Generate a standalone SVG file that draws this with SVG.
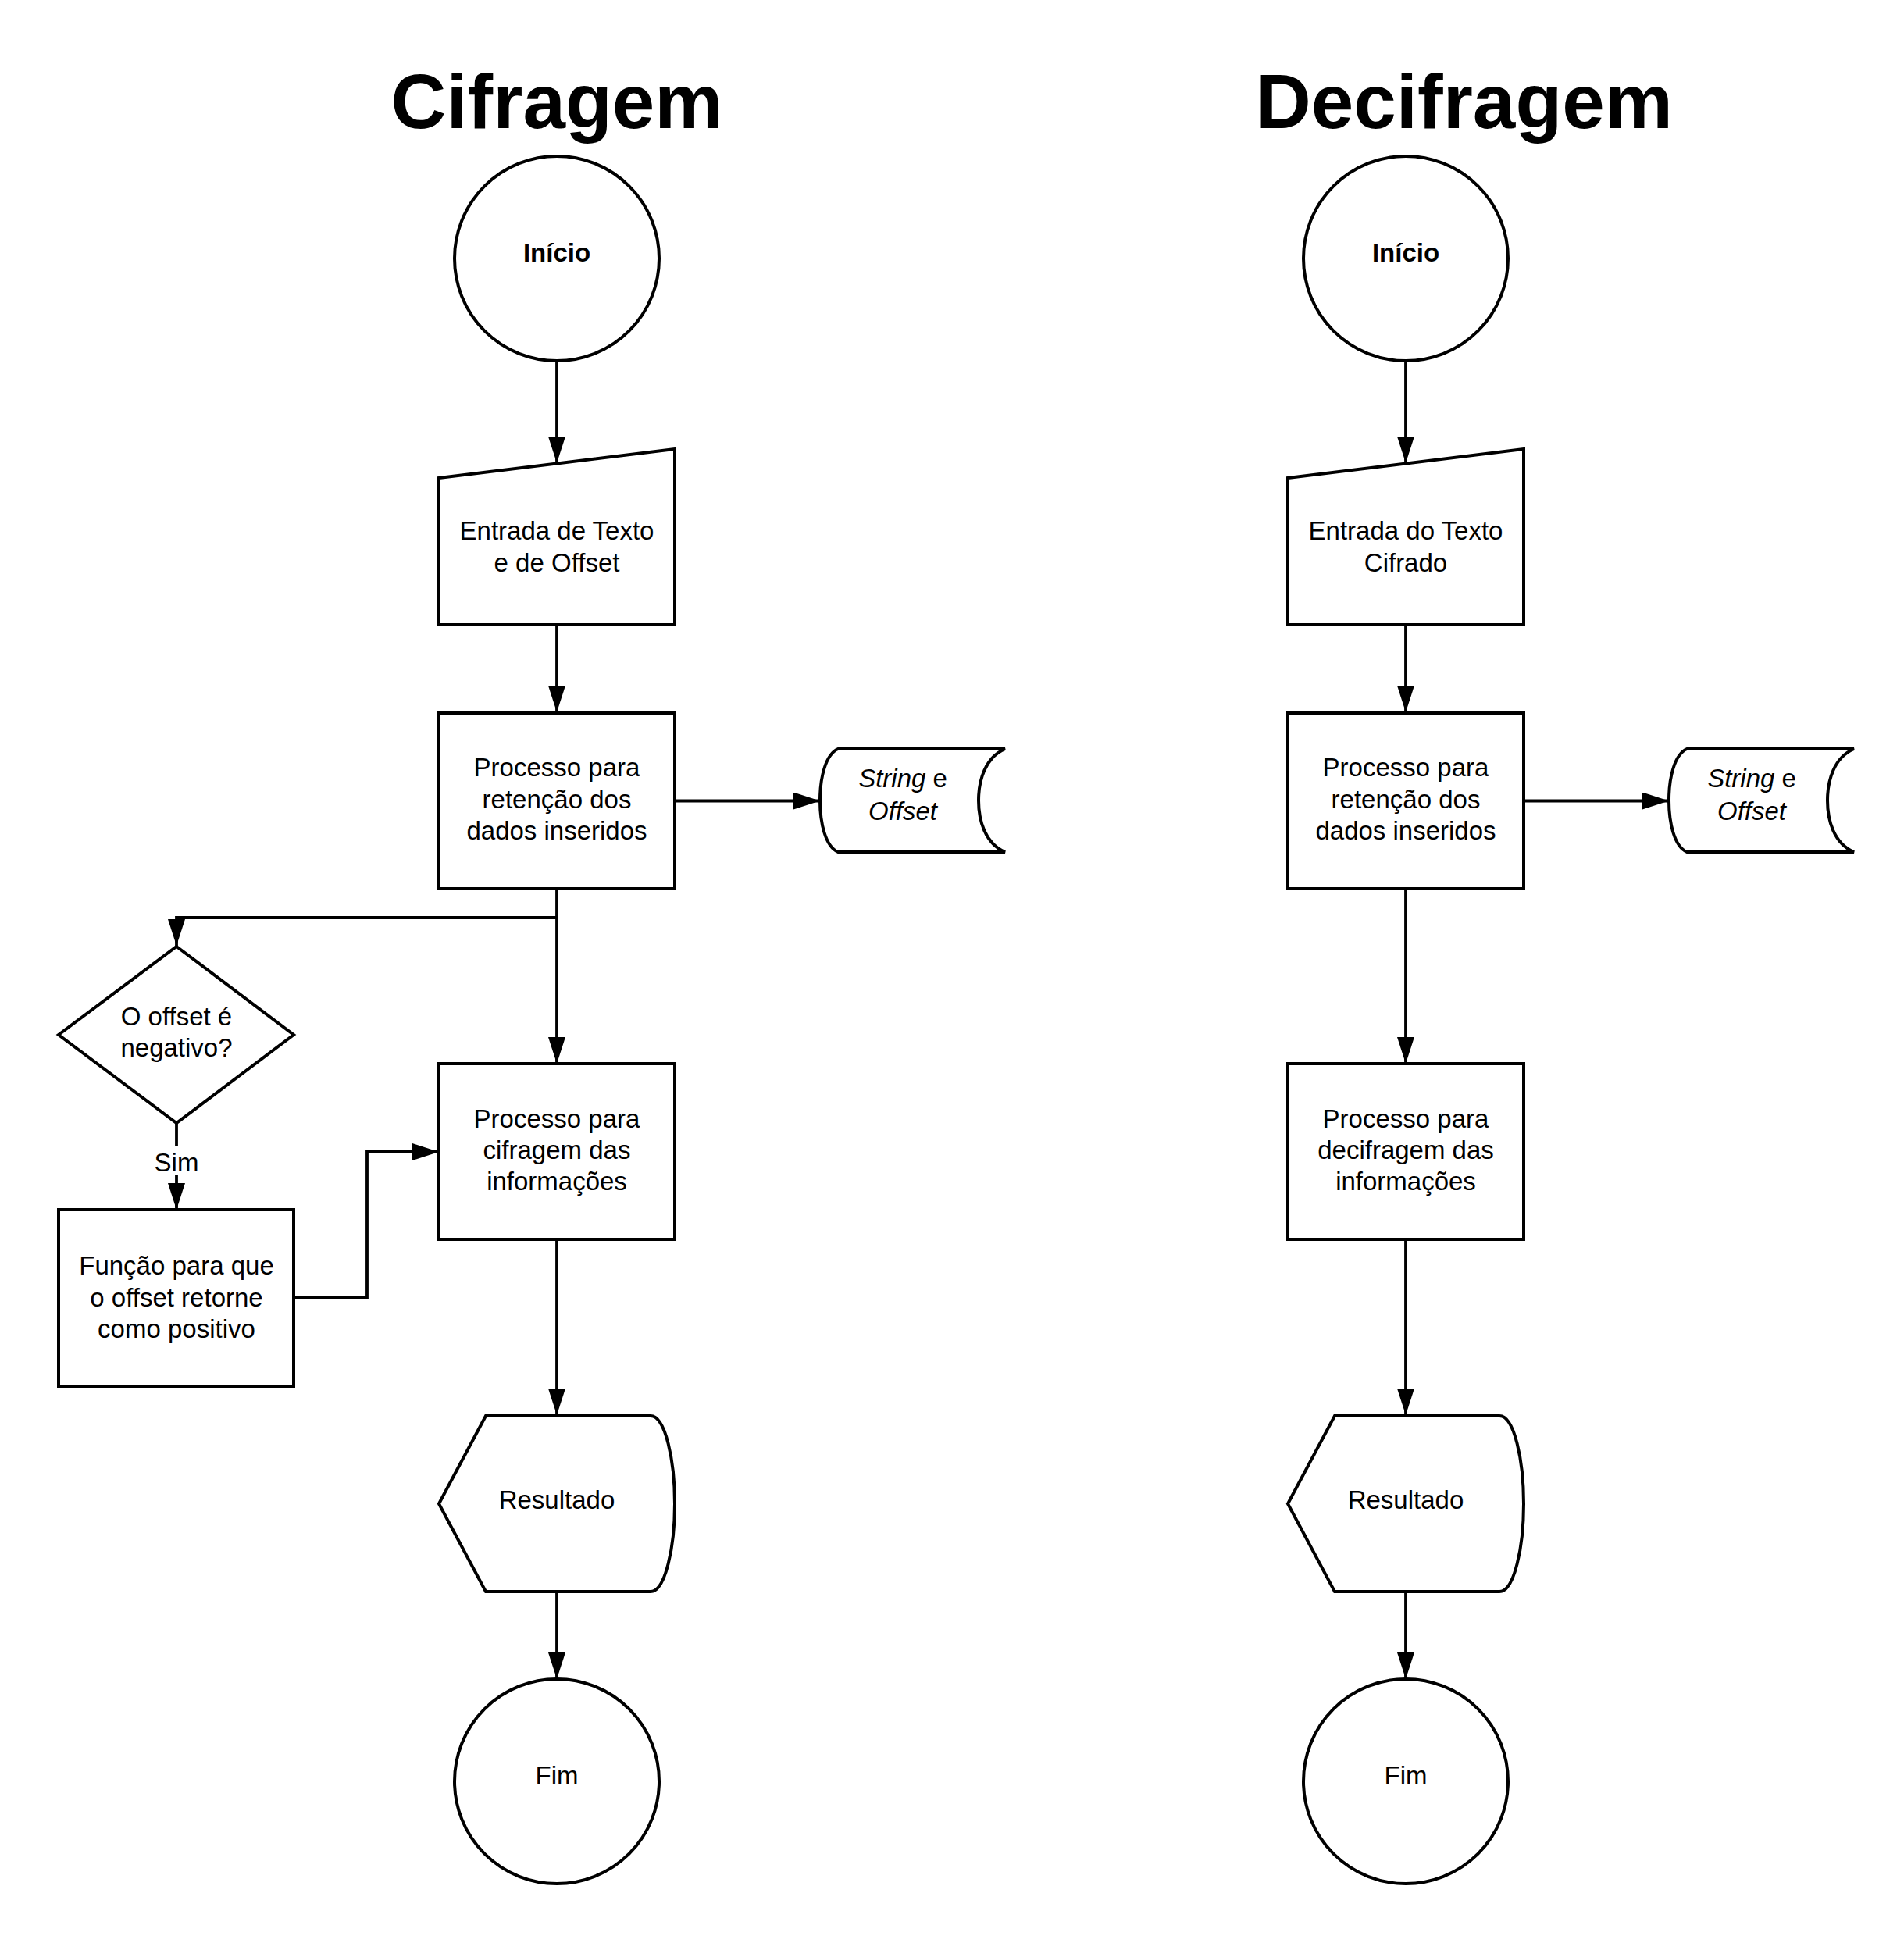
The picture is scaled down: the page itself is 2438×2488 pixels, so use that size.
<svg xmlns="http://www.w3.org/2000/svg" width="2438" height="2488" viewBox="0 0 2438 2488">
<style>
.s{fill:#fff;stroke:#000;stroke-width:4}
.c{fill:none;stroke:#000;stroke-width:3.8}
text{font-family:"Liberation Sans",Arial,sans-serif;font-size:33px;fill:#000;text-anchor:middle}
.t{font-size:98px;font-weight:bold}
.b{font-weight:bold}
.i{font-style:italic}
</style>
<defs>
<marker id="ah" markerUnits="userSpaceOnUse" markerWidth="34" markerHeight="22" refX="34" refY="11" orient="auto">
<path d="M0,0 L34,11 L0,22 Z" fill="#000"/>
</marker>
</defs>
<rect width="2438" height="2488" fill="#fff"/>
<text class="t" x="713" y="164">Cifragem</text>
<text class="t" x="1875" y="164">Decifragem</text>

<g id="connectors">
<path class="c" marker-end="url(#ah)" d="M713,463 V593"/>
<path class="c" marker-end="url(#ah)" d="M713,800 V912"/>
<path class="c" marker-end="url(#ah)" d="M864,1025.5 H1050"/>
<path class="c" marker-end="url(#ah)" d="M713,1138 V1362"/>
<path class="c" marker-end="url(#ah)" d="M713,1175 H226 V1211"/>
<path class="c" marker-end="url(#ah)" d="M226,1438 V1467 M226,1505 V1549"/>
<path class="c" marker-end="url(#ah)" d="M376,1662 H470 V1475 H562"/>
<path class="c" marker-end="url(#ah)" d="M713,1587 V1812"/>
<path class="c" marker-end="url(#ah)" d="M713,2038 V2150"/>
<path class="c" marker-end="url(#ah)" d="M1800,463 V593"/>
<path class="c" marker-end="url(#ah)" d="M1800,800 V912"/>
<path class="c" marker-end="url(#ah)" d="M1951,1025.5 H2137"/>
<path class="c" marker-end="url(#ah)" d="M1800,1138 V1362"/>
<path class="c" marker-end="url(#ah)" d="M1800,1587 V1812"/>
<path class="c" marker-end="url(#ah)" d="M1800,2038 V2150"/>
<text x="226" y="1500">Sim</text>
</g>

<g id="inicio-c">
<circle class="s" cx="713" cy="331" r="131"/>
<text class="b" x="713" y="335">Início</text>
</g>
<g id="entrada-c">
<polygon class="s" points="562,612 864,575 864,800 562,800"/>
<text x="713" y="691">Entrada de Texto</text>
<text x="713" y="732">e de Offset</text>
</g>
<g id="retencao-c">
<rect class="s" x="562" y="913" width="302" height="225"/>
<text x="713" y="994">Processo para</text>
<text x="713" y="1034.5">retenção dos</text>
<text x="713" y="1075">dados inseridos</text>
</g>
<g id="stored-c">
<path class="s" d="M1073,959 L1287,959 C1261,970 1253,1000 1253,1025 C1253,1050 1261,1080 1287,1091 L1073,1091 C1057,1084 1050,1054 1050,1025 C1050,996 1057,966 1073,959 Z"/>
<text x="1156" y="1008"><tspan class="i">String</tspan> e</text>
<text class="i" x="1156" y="1050">Offset</text>
</g>
<g id="decisao-c">
<polygon class="s" points="226,1212 376,1325 226,1438 75,1325"/>
<text x="226" y="1313">O offset é</text>
<text x="226" y="1353">negativo?</text>
</g>
<g id="funcao-c">
<rect class="s" x="75" y="1549" width="301" height="226"/>
<text x="226" y="1632">Função para que</text>
<text x="226" y="1672.5">o offset retorne</text>
<text x="226" y="1712.5">como positivo</text>
</g>
<g id="cifragem-c">
<rect class="s" x="562" y="1362" width="302" height="225"/>
<text x="713" y="1444">Processo para</text>
<text x="713" y="1484">cifragem das</text>
<text x="713" y="1524">informações</text>
</g>
<g id="resultado-c">
<path class="s" d="M562,1925.5 L622,1813 L833,1813 C852,1813 864,1870 864,1925.5 C864,1981 852,2038 833,2038 L622,2038 Z"/>
<text x="713" y="1932">Resultado</text>
</g>
<g id="fim-c">
<circle class="s" cx="713" cy="2281" r="131"/>
<text x="713" y="2285">Fim</text>
</g>

<g id="inicio-d">
<circle class="s" cx="1800" cy="331" r="131"/>
<text class="b" x="1800" y="335">Início</text>
</g>
<g id="entrada-d">
<polygon class="s" points="1649,612 1951,575 1951,800 1649,800"/>
<text x="1800" y="691">Entrada do Texto</text>
<text x="1800" y="732">Cifrado</text>
</g>
<g id="retencao-d">
<rect class="s" x="1649" y="913" width="302" height="225"/>
<text x="1800" y="994">Processo para</text>
<text x="1800" y="1034.5">retenção dos</text>
<text x="1800" y="1075">dados inseridos</text>
</g>
<g id="stored-d">
<path class="s" d="M2160,959 L2374,959 C2348,970 2340,1000 2340,1025 C2340,1050 2348,1080 2374,1091 L2160,1091 C2144,1084 2137,1054 2137,1025 C2137,996 2144,966 2160,959 Z"/>
<text x="2243" y="1008"><tspan class="i">String</tspan> e</text>
<text class="i" x="2243" y="1050">Offset</text>
</g>
<g id="decifragem-d">
<rect class="s" x="1649" y="1362" width="302" height="225"/>
<text x="1800" y="1444">Processo para</text>
<text x="1800" y="1484">decifragem das</text>
<text x="1800" y="1524">informações</text>
</g>
<g id="resultado-d">
<path class="s" d="M1649,1925.5 L1709,1813 L1920,1813 C1939,1813 1951,1870 1951,1925.5 C1951,1981 1939,2038 1920,2038 L1709,2038 Z"/>
<text x="1800" y="1932">Resultado</text>
</g>
<g id="fim-d">
<circle class="s" cx="1800" cy="2281" r="131"/>
<text x="1800" y="2285">Fim</text>
</g>
</svg>
